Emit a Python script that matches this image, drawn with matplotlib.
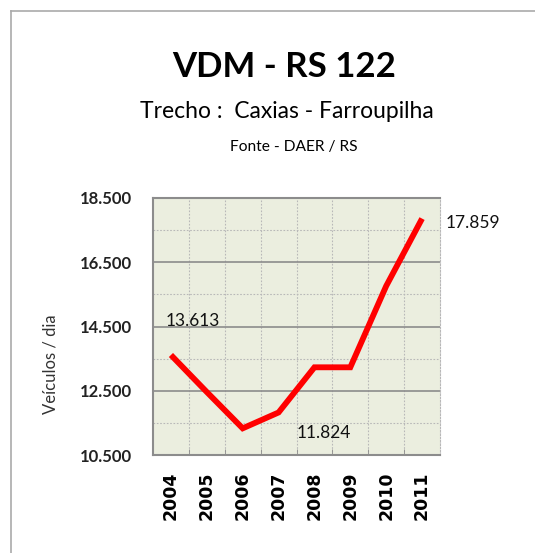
import matplotlib
matplotlib.use("Agg")
import matplotlib.pyplot as plt
from matplotlib.lines import Line2D
from matplotlib.ticker import FixedLocator, FuncFormatter

years = ["2004", "2005", "2006", "2007", "2008", "2009", "2010", "2011"]
vdm = [13613, 12460, 11330, 11824, 13230, 13230, 15760, 17859]
labels_shown = {0: "13.613", 3: "11.824", 7: "17.859"}
yticks = [10500, 12500, 14500, 16500, 18500]

title = "VDM - RS 122"
subtitle = "Trecho :  Caxias - Farroupilha"
source = "Fonte - DAER / RS"
ylabel = "Veículos / dia"

FONT = "Lato"

fig = plt.figure(figsize=(5.35, 5.53), dpi=100)
ax = fig.add_axes([153/535, 1-455/553, 287/535, 257/553])
ax.set_facecolor("#EBEEDF")

x = list(range(len(years)))
ax.plot(x, vdm, color="#FF0000", lw=4.2, solid_capstyle="butt", solid_joinstyle="miter", zorder=3)

ax.set_xlim(-0.5, len(years) - 0.5)
ax.set_ylim(yticks[0], yticks[-1])

ax.yaxis.set_major_locator(FixedLocator(yticks))
ax.yaxis.set_minor_locator(FixedLocator([v + 1000 for v in yticks[:-1]]))
ax.yaxis.set_major_formatter(FuncFormatter(lambda v, p: f"{int(v):,}".replace(",", ".")))
ax.grid(axis="y", which="major", color="#8C8C8C", lw=1.2, zorder=1)
ax.grid(axis="y", which="minor", color="#B8B8B8", lw=0.8, ls=(0, (1.5, 1.5)), zorder=1)

ax.xaxis.set_major_locator(FixedLocator(x))
ax.xaxis.set_minor_locator(FixedLocator([i + 0.5 for i in x[:-1]]))
ax.set_xticklabels(years, rotation=90, fontweight="bold", fontsize=12.5, family="DejaVu Sans")
ax.tick_params(axis="x", which="major", length=0, pad=12)
ax.tick_params(axis="x", which="minor", length=4, direction="in", color="#8C8C8C")
ax.grid(axis="x", which="minor", color="#B8B8B8", lw=0.8, ls=(0, (1.5, 1.5)), zorder=1)
ax.tick_params(axis="y", which="both", length=0, pad=15)
for t in ax.get_yticklabels():
    t.set_fontfamily(FONT)
    t.set_fontweight("bold")
    t.set_fontsize(12)
    t.set_color("#222222")

for s in ["left", "bottom", "top"]:
    ax.spines[s].set_color("#8C8C8C")
    ax.spines[s].set_linewidth(1.5)
ax.spines["right"].set_color("#B8B8B8")
ax.spines["right"].set_linestyle((0, (1.5, 1.5)))
ax.spines["right"].set_linewidth(0.8)

fig.text(50/535, 1-364/553, ylabel, rotation=90, ha="center", va="center",
         fontsize=12, family=FONT, color="#333333")

ax.annotate(labels_shown[0], (0, vdm[0]), xytext=(-4, 19), textcoords="offset points",
            ha="left", va="bottom", fontsize=12.5, family=FONT, color="#111111")
ax.annotate(labels_shown[3], (3, vdm[3]), xytext=(13, -15), textcoords="offset points",
            ha="left", va="center", fontsize=12.5, family=FONT, color="#111111")
ax.annotate(labels_shown[7], (7, vdm[7]), xytext=(17, -3), textcoords="offset points",
            ha="left", va="center", fontsize=12.5, family=FONT, color="#111111",
            annotation_clip=False)

fig.text(284/535, 1-67/553, title, ha="center", va="center", fontsize=25, fontweight="bold", family=FONT)
fig.text(287/535, 1-111/553, subtitle, ha="center", va="center", fontsize=16.5, family=FONT)
fig.text(294/535, 1-147/553, source, ha="center", va="center", fontsize=11.2, family=FONT)

fig.add_artist(Line2D([11/535, 1], [1-10.5/553, 1-10.5/553], color="#AAAAAA", lw=1.2, transform=fig.transFigure))
fig.add_artist(Line2D([11/535, 11/535], [0, 1-10.5/553], color="#AAAAAA", lw=1.2, transform=fig.transFigure))

fig.savefig("out.png", dpi=100)
